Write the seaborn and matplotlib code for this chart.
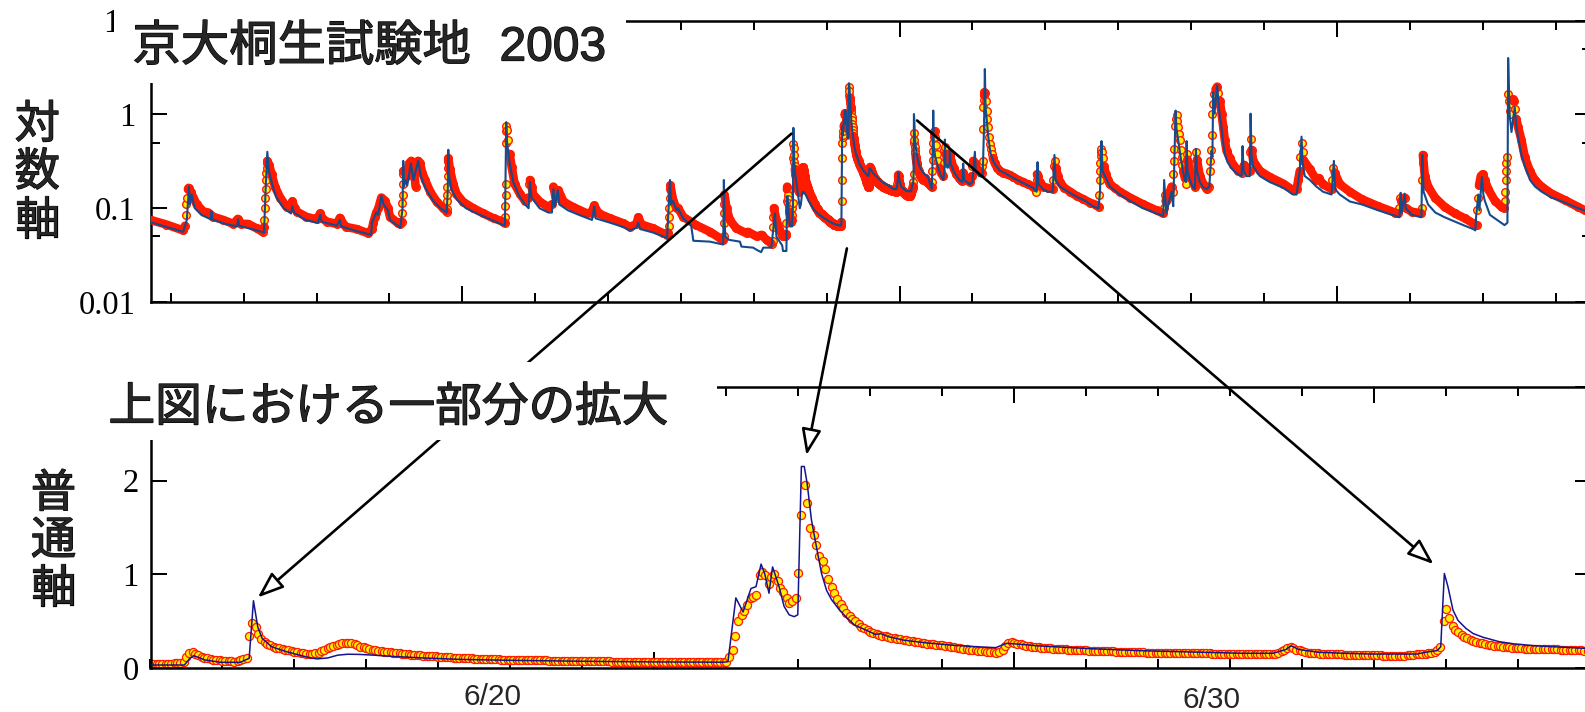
import numpy as np
import pandas as pd
import matplotlib
matplotlib.use("Agg")
import matplotlib.pyplot as plt
import matplotlib.patheffects as pe
import seaborn as sns
from matplotlib.patches import Rectangle, ConnectionPatch, ArrowStyle
from matplotlib.ticker import FixedLocator, FixedFormatter, NullFormatter

# ---------------------------------------------------------------------------
# Kiryu experimental watershed (Kyoto Univ.), 2003 — runoff record
# time axis: day of year 2003 (Jan 1 = 1); discharge in the units of the record
# ---------------------------------------------------------------------------

# observed runoff before the hourly window (day, value)
obs_before = [
    (79.22, 0.075), (81.4, 0.067), (83.7, 0.058), (83.95, 0.065), (84.05, 0.085),
    (84.15, 0.11), (84.25, 0.13), (84.35, 0.16), (84.45, 0.165), (84.73, 0.15),
    (85.1, 0.13), (85.55, 0.11), (86.5, 0.092), (87.15, 0.09), (87.84, 0.081),
    (89.2, 0.075), (90.6, 0.068), (91.2, 0.077), (91.7, 0.068), (92.6, 0.068),
    (93.8, 0.061), (94.6, 0.056), (94.8, 0.063), (94.85, 0.075), (94.9, 0.1),
    (94.95, 0.13), (95.0, 0.16), (95.05, 0.2), (95.1, 0.235), (95.15, 0.27),
    (95.2, 0.3), (95.25, 0.32), (95.5, 0.29), (95.84, 0.23), (96.3, 0.17),
    (97.0, 0.13), (97.9, 0.103), (98.35, 0.1), (98.7, 0.118), (99.0, 0.1),
    (99.3, 0.092), (100.6, 0.081), (102.0, 0.076), (102.2, 0.08), (102.5, 0.088),
    (102.8, 0.078), (103.4, 0.072), (104.8, 0.068), (105.2, 0.079), (105.7, 0.068),
    (106.1, 0.063), (107.5, 0.06), (109.1, 0.054), (109.6, 0.06), (109.8, 0.07),
    (110.0, 0.08), (110.2, 0.09), (110.5, 0.1), (110.7, 0.115), (110.9, 0.13),
    (111.4, 0.12), (111.8, 0.1), (112.08, 0.081), (113.2, 0.069), (113.5, 0.068),
    (113.68, 0.072), (113.72, 0.09), (113.76, 0.115), (113.8, 0.14), (113.84, 0.18),
    (113.88, 0.23), (113.92, 0.25), (114.15, 0.24), (114.4, 0.22), (114.7, 0.3),
    (115.0, 0.32), (115.3, 0.28), (115.6, 0.17), (115.75, 0.25), (115.95, 0.32),
    (116.2, 0.3), (116.5, 0.24), (116.9, 0.2), (117.6, 0.15), (118.5, 0.117),
    (119.4, 0.1), (119.85, 0.092), (119.88, 0.098), (119.91, 0.118), (119.94, 0.14),
    (119.97, 0.17), (120.0, 0.22), (120.03, 0.27), (120.06, 0.32), (120.09, 0.34),
    (120.3, 0.26), (120.77, 0.18), (121.2, 0.143), (122.1, 0.117), (123.5, 0.1),
    (124.9, 0.088), (126.3, 0.078), (127.6, 0.072), (127.85, 0.07), (127.88, 0.08),
    (127.91, 0.105), (127.94, 0.14), (127.97, 0.18), (128.0, 0.5), (128.03, 0.66),
    (128.06, 0.76), (128.15, 0.68), (128.31, 0.53), (128.5, 0.38), (128.77, 0.275),
    (129.2, 0.18), (129.9, 0.143), (130.6, 0.12), (131.05, 0.13), (131.2, 0.18),
    (131.28, 0.2), (131.5, 0.17), (131.74, 0.14), (132.66, 0.117), (133.8, 0.103),
    (134.3, 0.11), (134.5, 0.17), (134.8, 0.13), (135.2, 0.155), (135.9, 0.117),
    (137.2, 0.103), (139.1, 0.088), (139.75, 0.09), (140.1, 0.107), (140.7, 0.088),
    (142.3, 0.078), (144.1, 0.069), (145.0, 0.063), (145.9, 0.068), (146.14, 0.08),
    (146.6, 0.067), (148.2, 0.061), (149.57, 0.054), (150.1, 0.052), (150.26, 0.055),
    (150.3, 0.065), (150.35, 0.08), (150.4, 0.1), (150.45, 0.13), (150.5, 0.16),
    (150.55, 0.175), (150.94, 0.12), (151.4, 0.1), (151.63, 0.1), (152.3, 0.081),
    (154.1, 0.066), (156.0, 0.056), (157.35, 0.048), (157.8, 0.046), (157.85, 0.05),
    (157.88, 0.07), (157.91, 0.09), (157.94, 0.11), (157.97, 0.14), (158.26, 0.1),
    (158.7, 0.075), (159.6, 0.061), (161.0, 0.054), (161.2, 0.056), (162.4, 0.05),
    (163.06, 0.052), (163.75, 0.046), (164.43, 0.042), (164.6, 0.045), (164.65, 0.063),
    (164.7, 0.08), (164.75, 0.1), (165.1, 0.075), (165.5, 0.06), (165.9, 0.052),
]

# observed runoff, hourly, from 6/15 00:00 (day 166) to 7/5 00:00 (day 186)
hourly_start_day = 166.0
obs_hourly = [
    # 6/15
    0.050, 0.050, 0.050, 0.050, 0.051, 0.051, 0.051, 0.051, 0.052, 0.052, 0.053, 0.070,
    0.120, 0.160, 0.170, 0.155, 0.140, 0.125, 0.113, 0.105, 0.098, 0.092, 0.088, 0.084,
    # 6/16
    0.080, 0.077, 0.075, 0.073, 0.071, 0.075, 0.085, 0.100, 0.115, 0.340, 0.480, 0.440,
    0.370, 0.310, 0.280, 0.260, 0.245, 0.232, 0.220, 0.212, 0.205, 0.198, 0.192, 0.186,
    # 6/17
    0.178, 0.170, 0.164, 0.158, 0.153, 0.150, 0.152, 0.158, 0.168, 0.185, 0.200, 0.213,
    0.225, 0.235, 0.245, 0.255, 0.265, 0.272, 0.273, 0.268, 0.258, 0.245, 0.232, 0.222,
    # 6/18
    0.213, 0.205, 0.198, 0.192, 0.187, 0.182, 0.178, 0.174, 0.170, 0.166, 0.162, 0.158,
    0.155, 0.152, 0.149, 0.146, 0.143, 0.140, 0.137, 0.135, 0.132, 0.130, 0.128, 0.126,
    # 6/19
    0.124, 0.122, 0.120, 0.118, 0.116, 0.114, 0.113, 0.111, 0.110, 0.108, 0.107, 0.105,
    0.104, 0.103, 0.101, 0.100, 0.099, 0.098, 0.097, 0.095, 0.094, 0.093, 0.092, 0.091,
    # 6/20
    0.090, 0.089, 0.089, 0.088, 0.088, 0.087, 0.087, 0.086, 0.086, 0.085, 0.085, 0.084,
    0.084, 0.083, 0.082, 0.082, 0.081, 0.081, 0.080, 0.080, 0.079, 0.079, 0.078, 0.078,
    # 6/21
    0.077, 0.077, 0.076, 0.076, 0.075, 0.075, 0.074, 0.074, 0.073, 0.073, 0.072, 0.072,
    0.071, 0.071, 0.071, 0.070, 0.070, 0.070, 0.069, 0.069, 0.069, 0.068, 0.068, 0.068,
    # 6/22
    0.067, 0.067, 0.067, 0.067, 0.066, 0.066, 0.066, 0.066, 0.066, 0.066, 0.065, 0.065,
    0.065, 0.065, 0.065, 0.065, 0.064, 0.064, 0.064, 0.064, 0.064, 0.064, 0.065, 0.068,
    # 6/23
    0.071, 0.120, 0.200, 0.340, 0.500, 0.570, 0.610, 0.670, 0.750, 0.760, 0.780, 0.990,
    1.030, 0.990, 0.900, 0.970, 1.000, 0.930, 0.860, 0.810, 0.750, 0.700, 0.720, 0.750,
    # 6/24
    1.010, 1.630, 1.950, 1.760, 1.490, 1.420, 1.310, 1.200, 1.140, 1.060, 0.950, 0.870,
    0.800, 0.740, 0.690, 0.640, 0.590, 0.555, 0.520, 0.500, 0.470, 0.445, 0.425, 0.405,
    # 6/25
    0.390, 0.378, 0.366, 0.356, 0.347, 0.340, 0.333, 0.327, 0.321, 0.316, 0.310, 0.304,
    0.298, 0.292, 0.287, 0.282, 0.277, 0.272, 0.268, 0.263, 0.259, 0.255, 0.251, 0.247,
    # 6/26
    0.244, 0.240, 0.235, 0.230, 0.225, 0.220, 0.215, 0.210, 0.205, 0.200, 0.196, 0.192,
    0.188, 0.184, 0.180, 0.176, 0.172, 0.169, 0.167, 0.175, 0.200, 0.240, 0.265, 0.275,
    # 6/27
    0.270, 0.262, 0.255, 0.248, 0.242, 0.237, 0.232, 0.228, 0.224, 0.221, 0.218, 0.215,
    0.212, 0.210, 0.208, 0.206, 0.204, 0.202, 0.200, 0.198, 0.197, 0.195, 0.193, 0.192,
    # 6/28
    0.190, 0.188, 0.187, 0.186, 0.185, 0.184, 0.182, 0.181, 0.180, 0.179, 0.178, 0.177,
    0.176, 0.175, 0.174, 0.173, 0.172, 0.171, 0.170, 0.169, 0.168, 0.168, 0.167, 0.167,
    # 6/29
    0.166, 0.166, 0.165, 0.165, 0.164, 0.164, 0.163, 0.163, 0.162, 0.162, 0.161, 0.161,
    0.160, 0.160, 0.159, 0.159, 0.158, 0.158, 0.157, 0.157, 0.156, 0.156, 0.155, 0.155,
    # 6/30
    0.154, 0.154, 0.153, 0.153, 0.153, 0.152, 0.152, 0.152, 0.151, 0.151, 0.151, 0.150,
    0.150, 0.150, 0.152, 0.156, 0.165, 0.180, 0.200, 0.215, 0.228, 0.220, 0.200, 0.190,
    # 7/1
    0.182, 0.175, 0.168, 0.163, 0.160, 0.158, 0.156, 0.155, 0.154, 0.152, 0.151, 0.150,
    0.149, 0.148, 0.147, 0.146, 0.145, 0.144, 0.143, 0.142, 0.141, 0.140, 0.139, 0.138,
    # 7/2
    0.138, 0.137, 0.137, 0.136, 0.136, 0.136, 0.135, 0.135, 0.135, 0.135, 0.136, 0.138,
    0.142, 0.146, 0.150, 0.153, 0.155, 0.157, 0.160, 0.166, 0.172, 0.190, 0.230, 0.500,
    # 7/3
    0.630, 0.540, 0.450, 0.410, 0.385, 0.355, 0.335, 0.320, 0.305, 0.290, 0.280, 0.272,
    0.265, 0.258, 0.252, 0.247, 0.242, 0.237, 0.233, 0.229, 0.225, 0.222, 0.219, 0.216,
    # 7/4
    0.214, 0.212, 0.210, 0.207, 0.205, 0.203, 0.202, 0.202, 0.204, 0.207, 0.209, 0.210,
    0.208, 0.204, 0.200, 0.197, 0.195, 0.194, 0.193, 0.192, 0.191, 0.190, 0.189, 0.188,
    # 7/5 00:00
    0.187,
]

# observed runoff after the hourly window (day, value)
obs_after = [
    (186.2, 0.175), (186.4, 0.168), (186.45, 0.19), (186.5, 0.25), (186.55, 0.33),
    (186.6, 0.41), (186.65, 0.5), (186.7, 0.58), (186.75, 0.63), (186.8, 0.66),
    (186.9, 0.58), (187.0, 0.47), (187.15, 0.38), (187.3, 0.32), (187.5, 0.27),
    (187.75, 0.24), (188.0, 0.22), (188.1, 0.3), (188.15, 0.42), (188.2, 0.45),
    (188.35, 0.38), (188.6, 0.31), (188.85, 0.36), (188.95, 0.38), (189.1, 0.32),
    (189.4, 0.27), (189.8, 0.23), (190.2, 0.21), (190.5, 0.195), (190.65, 0.23),
    (190.75, 0.24), (190.9, 0.22), (191.3, 0.2), (191.65, 0.19), (191.9, 0.22),
    (192.0, 0.28), (192.1, 0.32), (192.3, 0.3), (192.56, 0.27), (192.9, 0.25),
    (193.25, 0.24), (193.35, 0.28), (193.4, 0.32), (193.45, 0.7), (193.5, 1.2),
    (193.55, 1.42), (193.6, 1.62), (193.65, 1.72), (193.7, 1.7), (193.8, 1.4),
    (193.93, 1.1), (194.05, 0.9), (194.16, 0.73), (194.3, 0.58), (194.39, 0.49),
    (194.5, 0.43), (194.62, 0.38), (194.8, 0.34), (195.08, 0.3), (195.4, 0.27),
    (195.76, 0.25), (196.2, 0.24), (196.68, 0.234), (197.1, 0.225), (197.59, 0.215),
    (198.3, 0.2), (198.96, 0.19), (199.6, 0.18), (200.33, 0.17), (200.6, 0.165),
    (200.75, 0.15), (200.8, 0.2), (200.85, 0.23), (200.95, 0.22), (201.2, 0.19),
    (201.71, 0.17), (202.3, 0.165), (202.99, 0.16), (203.1, 0.2), (203.2, 0.28),
    (203.3, 0.32), (203.45, 0.27), (203.7, 0.22), (204.0, 0.19), (204.6, 0.165),
    (205.4, 0.15), (206.3, 0.135), (207.2, 0.125), (208.1, 0.115), (209.0, 0.108),
    (209.35, 0.104), (209.4, 0.14), (209.45, 0.2), (209.5, 0.25), (209.55, 0.3),
    (209.6, 0.36), (209.65, 0.4), (209.7, 0.43), (209.8, 0.4), (209.9, 0.34),
    (210.05, 0.28), (210.3, 0.23), (210.6, 0.2), (210.86, 0.18), (211.5, 0.165),
    (212.23, 0.15), (213.6, 0.13), (215.43, 0.11), (217.26, 0.095), (218.18, 0.088),
    (218.3, 0.1), (218.4, 0.14), (218.5, 0.12), (218.63, 0.125), (218.8, 0.14),
    (219.09, 0.15), (219.32, 0.17), (219.45, 0.15), (219.55, 0.23), (219.62, 0.32),
    (219.7, 0.43), (219.8, 0.76), (219.9, 0.9), (220.0, 0.98), (220.1, 0.85),
    (220.23, 0.73), (220.35, 0.62), (220.46, 0.53), (220.6, 0.42), (220.69, 0.35),
    (220.8, 0.29), (220.92, 0.25), (221.15, 0.21), (221.29, 0.18), (221.33, 0.3),
    (221.38, 0.38), (221.5, 0.33), (221.83, 0.25), (222.06, 0.21), (222.3, 0.19),
    (222.52, 0.17), (222.6, 0.3), (222.66, 0.4), (222.8, 0.33), (223.2, 0.22),
    (223.7, 0.18), (224.12, 0.16), (224.4, 0.17), (224.58, 0.25), (224.65, 0.32),
    (224.72, 0.42), (224.8, 0.6), (224.9, 1.0), (225.03, 1.3), (225.15, 1.66),
    (225.35, 1.85), (225.58, 1.98), (225.75, 1.7), (225.95, 1.4), (226.18, 1.02),
    (226.41, 0.73), (226.63, 0.53), (226.86, 0.41), (227.32, 0.34), (227.78, 0.29),
    (228.46, 0.25), (228.92, 0.24), (229.06, 0.26), (229.3, 0.29), (229.6, 0.27),
    (230.06, 0.25), (230.1, 0.4), (230.16, 0.55), (230.3, 0.42), (230.52, 0.32),
    (231.44, 0.25), (232.8, 0.215), (234.64, 0.183), (236.0, 0.155), (236.47, 0.16),
    (236.7, 0.2), (236.92, 0.25), (237.0, 0.35), (237.15, 0.5), (237.3, 0.4),
    (237.38, 0.33), (238.3, 0.26), (239.2, 0.2), (239.5, 0.21), (240.1, 0.18),
    (241.27, 0.16), (241.35, 0.2), (241.5, 0.27), (241.7, 0.24), (242.4, 0.18),
    (243.78, 0.15), (245.4, 0.125), (247.67, 0.105), (249.96, 0.09), (250.4, 0.088),
    (250.55, 0.1), (250.7, 0.13), (250.85, 0.12), (251.1, 0.125), (251.3, 0.13),
    (251.5, 0.1), (252.25, 0.092), (253.6, 0.088), (253.65, 0.1), (253.7, 0.2),
    (253.75, 0.3), (253.8, 0.37), (254.07, 0.22), (254.53, 0.17), (255.45, 0.13),
    (256.8, 0.103), (258.2, 0.088), (259.56, 0.078), (260.7, 0.069), (261.16, 0.066),
    (261.25, 0.095), (261.35, 0.13), (261.5, 0.175), (261.75, 0.22), (262.0, 0.23),
    (262.3, 0.2), (262.76, 0.16), (263.68, 0.12), (264.59, 0.103), (264.96, 0.1),
    (265.05, 0.12), (265.1, 0.15), (265.15, 0.2), (265.2, 0.25), (265.25, 0.3),
    (265.3, 0.35), (265.45, 1.66), (265.55, 1.4), (265.7, 1.1), (265.85, 1.0),
    (266.0, 1.3), (266.15, 1.45), (266.3, 1.38), (266.45, 1.15), (266.6, 0.9),
    (266.88, 0.73), (267.33, 0.53), (267.79, 0.35), (268.48, 0.25), (269.16, 0.2),
    (270.08, 0.17), (271.45, 0.143), (273.28, 0.122), (275.1, 0.103), (276.0, 0.095),
    (276.8, 0.09),
]

# simulated runoff (day, value)
sim_points = [
    (79.22, 0.071), (83.7, 0.056), (84.2, 0.075), (84.5, 0.17), (84.6, 0.11),
    (84.85, 0.14), (85.3, 0.1), (86.2, 0.085), (87.5, 0.076), (87.6, 0.093),
    (87.7, 0.076), (89.5, 0.068), (91.1, 0.064), (91.25, 0.076), (91.4, 0.065),
    (93.8, 0.058), (94.8, 0.055), (95.0, 0.15), (95.25, 0.4), (95.45, 0.25),
    (96.0, 0.17), (96.5, 0.13), (97.5, 0.1), (98.5, 0.088), (98.7, 0.105),
    (98.9, 0.09), (100.5, 0.075), (102.2, 0.07), (102.5, 0.085), (102.7, 0.072),
    (104.8, 0.065), (105.2, 0.075), (105.4, 0.064), (107.5, 0.057), (109.5, 0.052),
    (109.6, 0.07), (110.2, 0.09), (110.45, 0.085), (110.9, 0.135), (111.2, 0.11),
    (111.8, 0.095), (112.08, 0.075), (113.5, 0.062), (113.8, 0.1), (113.9, 0.32),
    (114.0, 0.17), (114.2, 0.2), (114.45, 0.175), (114.95, 0.3), (115.3, 0.2),
    (115.95, 0.32), (116.3, 0.22), (117.0, 0.16), (118.0, 0.12), (119.0, 0.1),
    (119.85, 0.09), (120.0, 0.15), (120.08, 0.42), (120.2, 0.22), (120.5, 0.16),
    (121.2, 0.125), (122.5, 0.1), (124.0, 0.088), (126.0, 0.075), (127.85, 0.065),
    (127.95, 0.3), (128.03, 0.83), (128.15, 0.5), (128.5, 0.3), (129.0, 0.19),
    (129.8, 0.135), (130.6, 0.11), (131.1, 0.1), (131.28, 0.19), (131.5, 0.13),
    (132.6, 0.1), (133.8, 0.09), (134.3, 0.09), (134.5, 0.16), (134.7, 0.105),
    (135.1, 0.155), (135.3, 0.11), (136.5, 0.095), (138.0, 0.085), (139.8, 0.075),
    (140.1, 0.104), (140.3, 0.078), (142.3, 0.07), (144.1, 0.063), (145.0, 0.058),
    (145.9, 0.062), (146.14, 0.07), (146.4, 0.06), (148.2, 0.055), (149.57, 0.05),
    (150.1, 0.048), (150.5, 0.2), (150.65, 0.11), (150.9, 0.12), (151.4, 0.095),
    (151.6, 0.1), (152.3, 0.078), (153.4, 0.066), (153.7, 0.045), (156.0, 0.044),
    (157.8, 0.041), (157.89, 0.2), (158.0, 0.07), (158.1, 0.05), (158.6, 0.046),
    (160.1, 0.044), (160.3, 0.039), (161.9, 0.038), (162.4, 0.036), (163.0, 0.034),
    (163.3, 0.038), (164.4, 0.038), (164.9, 0.088), (165.1, 0.05), (165.9, 0.04),
    (166.0, 0.035), (166.47, 0.035), (166.54, 0.1), (166.6, 0.135), (166.75, 0.09),
    (166.97, 0.064), (167.25, 0.064), (167.32, 0.09), (167.37, 0.106), (167.43, 0.72),
    (167.49, 0.44), (167.55, 0.32), (167.68, 0.23), (167.89, 0.177), (168.17, 0.12),
    (168.31, 0.1), (168.46, 0.11), (168.6, 0.14), (168.74, 0.15), (168.9, 0.148),
    (169.1, 0.14), (169.4, 0.125), (169.8, 0.11), (170.3, 0.095), (171.0, 0.085),
    (172.0, 0.075), (173.0, 0.068), (173.95, 0.065), (174.02, 0.07), (174.13, 0.75),
    (174.23, 0.6), (174.34, 0.85), (174.41, 0.87), (174.48, 1.11), (174.53, 1.01),
    (174.59, 0.8), (174.64, 1.08), (174.73, 0.87), (174.8, 0.66), (174.87, 0.57),
    (174.94, 0.55), (174.99, 0.57), (175.04, 2.15), (175.08, 2.15), (175.12, 1.97),
    (175.18, 1.58), (175.25, 1.29), (175.32, 1.01), (175.39, 0.83), (175.46, 0.73),
    (175.57, 0.62), (175.68, 0.53), (175.78, 0.46), (175.93, 0.41), (176.07, 0.36),
    (176.14, 0.37), (176.25, 0.337), (176.46, 0.3), (176.75, 0.273), (177.1, 0.248),
    (177.46, 0.23), (177.74, 0.22), (177.89, 0.266), (178.03, 0.259), (178.31, 0.24),
    (179.03, 0.21), (179.74, 0.188), (180.45, 0.174), (181.16, 0.16), (181.59, 0.16),
    (181.77, 0.2), (181.84, 0.24), (181.95, 0.2), (182.23, 0.17), (182.59, 0.16),
    (182.95, 0.152), (183.59, 0.152), (183.73, 0.174), (183.87, 0.188), (183.92, 0.23),
    (183.97, 1.01), (184.02, 0.87), (184.09, 0.62), (184.16, 0.51), (184.27, 0.425),
    (184.37, 0.37), (184.51, 0.33), (184.73, 0.284), (184.94, 0.26), (185.23, 0.24),
    (185.93, 0.213), (186.4, 0.16), (186.5, 0.25), (186.62, 1.1), (186.7, 0.45),
    (186.9, 0.35), (187.3, 0.27), (187.7, 0.22), (188.0, 0.2), (188.15, 0.25),
    (188.22, 0.54), (188.3, 0.3), (188.6, 0.27), (188.85, 0.3), (188.9, 0.42),
    (189.0, 0.3), (189.5, 0.24), (190.2, 0.2), (190.6, 0.19), (190.73, 0.3),
    (190.85, 0.2), (191.65, 0.18), (192.0, 0.19), (192.33, 0.4), (192.45, 0.25),
    (192.9, 0.22), (193.4, 0.22), (193.6, 0.8), (193.7, 3.05), (193.8, 1.2),
    (194.0, 0.8), (194.2, 0.55), (194.5, 0.38), (195.0, 0.3), (195.8, 0.25),
    (196.3, 0.24), (197.6, 0.21), (199.0, 0.185), (200.3, 0.165), (200.8, 0.15),
    (200.93, 0.31), (201.05, 0.18), (201.7, 0.16), (202.3, 0.15), (203.0, 0.15),
    (203.25, 0.37), (203.4, 0.2), (204.0, 0.17), (205.4, 0.145), (206.5, 0.13),
    (207.5, 0.12), (208.5, 0.105), (209.3, 0.1), (209.5, 0.15), (209.7, 0.52),
    (209.85, 0.25), (210.86, 0.17), (212.2, 0.14), (213.6, 0.12), (215.4, 0.1),
    (217.26, 0.088), (218.18, 0.083), (218.3, 0.2), (218.6, 0.09), (219.32, 0.15),
    (219.55, 0.105), (219.87, 1.1), (220.0, 0.7), (220.2, 0.55), (220.46, 0.4),
    (220.7, 0.3), (220.92, 0.24), (221.15, 0.2), (221.3, 0.19), (221.38, 0.52),
    (221.5, 0.25), (221.83, 0.2), (222.06, 0.18), (222.3, 0.165), (222.52, 0.16),
    (222.66, 0.43), (222.8, 0.25), (223.2, 0.19), (223.7, 0.165), (224.12, 0.16),
    (224.5, 0.17), (224.8, 0.41), (224.92, 0.35), (225.03, 1.72), (225.2, 1.02),
    (225.58, 2.05), (225.8, 1.2), (225.95, 0.95), (226.2, 0.7), (226.4, 0.5),
    (226.63, 0.38), (227.0, 0.31), (227.5, 0.27), (228.0, 0.245), (228.46, 0.23),
    (228.92, 0.22), (229.06, 0.46), (229.2, 0.25), (229.6, 0.22), (230.06, 0.22),
    (230.16, 1.02), (230.3, 0.35), (230.52, 0.28), (231.44, 0.22), (232.8, 0.19),
    (234.64, 0.165), (236.0, 0.14), (236.47, 0.14), (236.9, 0.25), (237.15, 0.58),
    (237.3, 0.3), (237.6, 0.22), (238.3, 0.2), (239.2, 0.17), (240.1, 0.15),
    (241.27, 0.14), (241.59, 0.32), (241.75, 0.16), (242.4, 0.14), (243.78, 0.118),
    (245.4, 0.11), (247.67, 0.095), (249.96, 0.083), (250.6, 0.08), (250.75, 0.146),
    (250.9, 0.09), (251.3, 0.143), (251.45, 0.1), (252.3, 0.085), (253.6, 0.08),
    (253.72, 0.37), (253.9, 0.15), (254.5, 0.11), (255.5, 0.09), (256.8, 0.08),
    (258.2, 0.072), (259.56, 0.065), (260.7, 0.06), (261.0, 0.058), (261.1, 0.08),
    (261.4, 0.14), (261.55, 0.095), (261.9, 0.215), (262.1, 0.14), (262.3, 0.12),
    (263.0, 0.085), (264.0, 0.075), (265.0, 0.066), (265.4, 0.07), (265.5, 4.0),
    (265.7, 1.0), (265.96, 0.65), (266.4, 1.2), (266.6, 0.8), (266.9, 0.55),
    (267.3, 0.38), (267.8, 0.28), (268.5, 0.2), (269.2, 0.17), (270.1, 0.15),
    (271.45, 0.13), (273.3, 0.115), (275.1, 0.1), (276.8, 0.09),
]

# axis ranges / ticks (day of year)
top_xlim = (79.22, 276.8)
top_major_days = [122, 182, 242]
top_minor_days = list(range(82, 277, 10))
top_ylim = (0.01, 10)
top_major_q = [0.01, 0.1, 1, 10]
top_major_labels = ["0.01", "0.1", "1", "10"]
top_minor_q = [0.05, 0.5, 5]

bot_xlim = (166, 186)
bot_major_days = [173, 178, 183]
bot_minor_days = list(range(166, 187))
bot_ylim = (0, 3)
bot_major_q = [0, 1, 2, 3]
bot_major_labels = ["0", "1", "2", ""]

date_labels = [("6/20", 170.75, -0.130), ("6/30", 180.73, -0.142)]

# arrows: peak in the log panel -> same peak in the linear panel
arrow_from = [(167.16, 0.624), (174.77, 0.0373), (184.4, 0.863)]
arrow_to = [(167.49, 0.755), (175.11, 2.27), (183.82, 1.11)]

title_site = "京大桐生試験地"
title_year = "2003"
title_bottom = "上図における一部分の拡大"
ylabel_top = "対数軸"
ylabel_bottom = "普通軸"

# ---------------------------------------------------------------------------
sns.set_theme(style="ticks")
plt.rcParams["font.family"] = ["Liberation Serif", "DejaVu Serif"]
CJK = ["Liberation Sans", "Noto Sans CJK JP", "DejaVu Sans"]
HEAVY = [pe.withStroke(linewidth=0.9, foreground="black")]

OBS_FACE = "#fff000"
OBS_EDGE = "#ff1a00"
SIM_TOP = "#154a8c"
SIM_BOT = "#14148c"

W, H = 1585, 712
fig = plt.figure(figsize=(W / 100, H / 100), dpi=100)


def fx(px):
    return px / W


def fy(py):
    return 1 - py / H


ax_top = fig.add_axes([fx(150.5), fy(302), 1440 / W, (302 - 20.7) / H])
ax_bot = fig.add_axes([fx(150.5), fy(668.3), 1440 / W, (668.3 - 386.7) / H])

# assemble the observed record
t_hourly = hourly_start_day + np.arange(len(obs_hourly)) / 24.0
obs_h = pd.DataFrame({"day": t_hourly, "q": obs_hourly})
obs = pd.concat([
    pd.DataFrame(obs_before, columns=["day", "q"]),
    obs_h,
    pd.DataFrame(obs_after, columns=["day", "q"]),
]).sort_values("day", kind="stable").reset_index(drop=True)
sim = pd.DataFrame(sim_points, columns=["day", "q"])

# ---- log panel -------------------------------------------------------------
ax_top.set_yscale("log")
sns.scatterplot(data=obs, x="day", y="q", ax=ax_top, marker="o", s=30,
                color=OBS_FACE, edgecolor=OBS_EDGE, linewidth=1.0,
                zorder=2, legend=False)

# dense stretches of the record read as a continuous red band
t = obs["day"].to_numpy()
q = obs["q"].to_numpy()
px_dec = (302 - 20.7) / 3
dt = np.diff(t)
dy = np.abs(np.diff(np.log10(q))) * px_dec
smooth = (dt >= 0.2) | (dy < 2.5)
bx, by = [], []
for i in np.flatnonzero(smooth):
    if not bx or bx[-1] != t[i]:
        if bx:
            bx.append(np.nan)
            by.append(np.nan)
        bx.append(t[i])
        by.append(q[i])
    bx.append(t[i + 1])
    by.append(q[i + 1])
ax_top.plot(bx, by, color=OBS_EDGE, lw=6.2, solid_capstyle="round",
            solid_joinstyle="round", zorder=3)

sns.lineplot(data=sim, x="day", y="q", ax=ax_top, color=SIM_TOP, lw=1.5,
             estimator=None, sort=False, zorder=4)

ax_top.set_xlim(*top_xlim)
ax_top.set_ylim(*top_ylim)
ax_top.xaxis.set_major_locator(FixedLocator(top_major_days))
ax_top.xaxis.set_minor_locator(FixedLocator(top_minor_days))
ax_top.xaxis.set_major_formatter(NullFormatter())
ax_top.xaxis.set_minor_formatter(NullFormatter())
ax_top.yaxis.set_major_locator(FixedLocator(top_major_q))
ax_top.yaxis.set_major_formatter(FixedFormatter(top_major_labels))
ax_top.yaxis.set_minor_locator(FixedLocator(top_minor_q))
ax_top.yaxis.set_minor_formatter(NullFormatter())

# ---- linear panel ----------------------------------------------------------
sns.scatterplot(data=obs_h, x="day", y="q", ax=ax_bot, marker="o", s=34,
                color=OBS_FACE, edgecolor=OBS_EDGE, linewidth=0.9,
                zorder=2, legend=False)
sns.lineplot(data=sim, x="day", y="q", ax=ax_bot, color=SIM_BOT, lw=1.1,
             estimator=None, sort=False, zorder=4)
ax_bot.set_xlim(*bot_xlim)
ax_bot.set_ylim(*bot_ylim)
ax_bot.xaxis.set_major_locator(FixedLocator(bot_major_days))
ax_bot.xaxis.set_minor_locator(FixedLocator(bot_minor_days))
ax_bot.xaxis.set_major_formatter(NullFormatter())
ax_bot.xaxis.set_minor_formatter(NullFormatter())
ax_bot.yaxis.set_major_locator(FixedLocator(bot_major_q))
ax_bot.yaxis.set_major_formatter(FixedFormatter(bot_major_labels))

for ax, pad in ((ax_top, 10.5), (ax_bot, 8.5)):
    ax.set_xlabel("")
    ax.set_ylabel("")
    ax.tick_params(which="both", direction="in", top=True, right=True,
                   width=1.45, color="black")
    ax.tick_params(which="major", length=11.5)
    ax.tick_params(which="minor", length=6.2)
    ax.tick_params(axis="y", which="major", labelsize=23.5, pad=pad,
                   labelcolor="black")
    for sp in ax.spines.values():
        sp.set_visible(True)
        sp.set_linewidth(1.8)
        sp.set_color("black")

for label, day, yax in date_labels:
    ax_bot.text(day, yax, label, transform=ax_bot.get_xaxis_transform(),
                ha="center", va="baseline", fontsize=21.5,
                family=["Liberation Sans", "DejaVu Sans"])

# ---- arrows linking the panels ------------------------------------------------
head = ArrowStyle("-|>", head_length=0.8, head_width=0.3)
for (ta, qa), (tb, qb) in zip(arrow_from, arrow_to):
    con = ConnectionPatch(xyA=(ta, qa), coordsA=ax_top.transData,
                          xyB=(tb, qb), coordsB=ax_bot.transData,
                          arrowstyle=head, mutation_scale=20, lw=1.9,
                          edgecolor="black", facecolor="white",
                          shrinkA=0, shrinkB=0, zorder=5)
    fig.add_artist(con)

# ---- title plates --------------------------------------------------------------
fig.add_artist(Rectangle((fx(114), fy(82.7)), (626 - 114) / W, 82.7 / H,
                         transform=fig.transFigure, facecolor="white",
                         edgecolor="none", zorder=10))
fig.add_artist(Rectangle((fx(100), fy(440)), (717 - 100) / W, (440 - 362) / H,
                         transform=fig.transFigure, facecolor="white",
                         edgecolor="none", zorder=10))
fig.text(fx(132.5), fy(60.5), title_site, family=CJK, fontsize=34.8,
         va="baseline", ha="left", zorder=11, path_effects=HEAVY)
fig.text(fx(499.5), fy(60.5), title_year, family=CJK, fontsize=34.5,
         va="baseline", ha="left", zorder=11, path_effects=HEAVY)
fig.text(fx(108.5), fy(421), title_bottom, family=CJK, fontsize=33.6,
         va="baseline", ha="left", zorder=11, path_effects=HEAVY)

for ch, yc in zip(ylabel_top, (125, 172.5, 221)):
    fig.text(fx(37.3), fy(yc), ch, family=["Noto Sans CJK JP"], fontsize=32.5,
             ha="center", va="center", zorder=11, path_effects=HEAVY)
for ch, yc in zip(ylabel_bottom, (494, 541, 589)):
    fig.text(fx(53.5), fy(yc), ch, family=["Noto Sans CJK JP"], fontsize=32.5,
             ha="center", va="center", zorder=11, path_effects=HEAVY)

fig.savefig("out.png", dpi=100)
